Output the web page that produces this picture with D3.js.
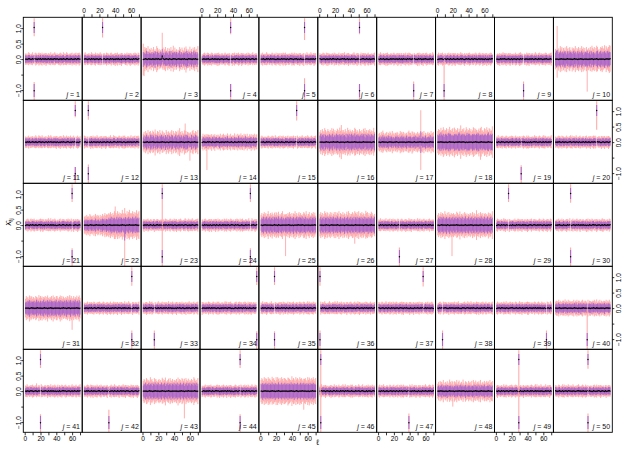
<!DOCTYPE html>
<html><head><meta charset="utf-8">
<script src="https://cdn.jsdelivr.net/npm/d3@7"></script>
<style>body{margin:0;background:#fff}svg{display:block}text{font-family:"Liberation Sans",Arial,Helvetica,sans-serif}</style>
</head><body><svg id="c" width="630" height="450"></svg>
<script>
// ---------- data ----------
const ell = d3.range(1, 71);                 // ℓ = 1..70
const panelJ = d3.range(1, 51);              // j = 1..50
const xTicks = [0, 10, 20, 30, 40, 50, 60, 70];
const xTickLabels = ["0", "", "20", "", "40", "", "60", ""];
const yTicks = [-1, -0.5, 0, 0.5, 1];
const yTickLabels = ["\u22121.0", "", "0.0", "0.5", "1.0"];

// point estimates, one char per ℓ: value = (digit-5)*0.012
const estCodes = [
"5545665456 5465546556 4565564556 5465546655 6545564565 5466545565 4556546655",
"5655456546 5564556545 6545565456 5546556454 6556455465 5645566545 5465565456",
"4556545655 5465547556 5455665456 5546554565 6545565546 5565454656 5546556545",
"5465546564 4556546554 6545565455 5654456546 5546655456 4565546556 5456654565",
"5556454656 5465565545 4655456556 5546545665 5456564554 6545465565 5546556456",
"6545565456 4556546655 5465545566 5645564554 6556545465 5455665456 5546455665",
"5465556454 6545465565 5556456546 4655546556 5465565454 6556454656 5545565465",
"4556565456 5465546545 6545565456 5654456556 5456546655 4565556454 6545465566",
"5545465565 6545565456 4565546554 6556454655 5465565456 5546556545 4656545565",
"5555455655 5545565555 5455655545 5565545555 5455556545 5565455555 5545565556",
"5465564556 5546545665 4655456546 5565546554 6545465565 5456654546 5565545456",
"5654565546 4565546554 6545565456 5546454665 5465565545 6545465556 4556546655",
"5545565455 5565545555 4555655545 5545565555 5555455565 5545555655 4555565545",
"4565545656 5546554565 6545465546 5565545654 4655456556 5465564554 6545565456",
"5556454655 6545565465 5465546554 4656545565 5546655456 4565546556 5456545665",
"5555545565 5545555655 5565545555 5455565545 5555655545 5545565555 5555545565",
"5545565555 5455655545 5565545555 5555455565 5545565455 5565555545 5455565555",
"5555655545 5545565555 5455555655 5565545545 5555455565 5545565555 5455655545",
"5465546565 4556545655 6545565546 5465564554 5546455665 6545565456 4565546556",
"5546565456 5465545566 4556546554 6545565465 5465456556 5546565445 6545565456",
"4565546556 5546545665 6545465556 5465564554 4556545665 5465546556 5456554565",
"5555545565 5545565555 5455655545 5565545555 5555455565 5545555655 5555565545",
"5465565456 5546454665 4655546556 5465565545 6545465556 5456654546 4565545665",
"5546556454 6545565465 5465546556 4556545665 5465565454 6545465556 5546565456",
"5545565555 5555455655 5465545555 5555565545 5455555655 5565545555 5545555565",
"5555455565 5545565555 5565545555 5455655545 5545565555 5555545565 5455565555",
"5465564556 4556546554 6545565465 5546454665 5465565456 4655546556 5546565455",
"5545565555 5465545555 5555655545 5545565455 5565545555 5455565545 5555455565",
"4565546556 5465564554 6545465565 5546556454 4656545665 5465565545 6545465556",
"5546565454 6545465565 4556546556 5465564554 5546545665 6545565456 4565546556",
"5555545565 5545565555 5455655545 5565545555 5555455565 5545565455 5555565545",
"5465546556 4556545665 5465565454 6545465556 5546565456 4655546554 5465565465",
"5546454665 6545565456 4565546556 5465564554 5546556545 6545465565 4556546655",
"4655546556 5465565545 6545465556 5546565454 4565546556 5465564554 6545565465",
"5465565456 5546454665 4655456556 5465546554 6545565465 5546565456 4565545665",
"5546556454 4565546556 5465564554 6545465565 5546545665 4556546556 5465565456",
"6545565456 5465546556 4556545665 5465565454 6545465556 5546565456 4655546554",
"5465564556 6545465565 5546556454 4656545665 5465565545 6545465556 5546565455",
"4556546655 5465545566 6545565456 5546454665 4565546556 5465564554 6545565465",
"5545565455 5565545555 5455655545 5545565555 5555455565 5465545555 5545565555",
"5465546565 4556545655 6545565546 5465564554 5546455665 6545565456 4565546556",
"5546565456 5465545566 4556546554 6545565465 5465456556 5546565445 6545565456",
"5555545565 5545565555 5455655545 5565545555 5555455565 5545555655 5555565545",
"4565546556 5546545665 6545465556 5465564554 4556545665 5465546556 5456554565",
"5545565555 5455655545 5565545555 5555455565 5545565455 5565555545 5455565555",
"5465565456 5546454665 4655546556 5465565545 6545465556 5456654546 4565545665",
"5546556454 6545565465 5465546556 4556545665 5465565454 6545465556 5546565456",
"5555655545 5545565555 5455555655 5565545545 5555455565 5545565555 5455655545",
"5465546556 4556545665 5465565454 6545465556 5546565456 4655546554 5465565465",
"6545565456 4556546655 5465545566 5645564554 6556545465 5455665456 5546455665"
];

// outer (pink) interval half-widths, base-36 char * 0.03
const outerCodes = [
"6656765667 5667656766 6756667656 6675666765 6566766576 6676566667 5666756676",
"6765666567 6656756666 7665666576 6656765667 6675666765 5666756676 6566766576",
"hfdbc9e8ba c8ad9b7ec9 b9a8fc9bd8 ac9b8d9ae8 c9b8a9db8c a9c8eb9a8d 9b8cad9b8e",
"5667656766 6676566667 6765666567 6566766576 6756667656 7665666576 6656756666",
"6675666765 6656765667 5666756676 6765666567 6676566667 6566766576 5667656766",
"6566766576 7665666576 6656756666 6756667656 5667656766 6675666765 6765666567",
"6676566667 6765666567 6566766576 5666756676 6656765667 6756667656 7665666576",
"6756667656 6566766576 6676566667 6656756666 7665666576 5667656766 6675666765",
"5666756676 6675666765 6656765667 7665666576 6765666567 6656756666 6676566667",
"b9dac8ebd9 cad9eb8cda 9dbcae9cbd ac9ebdac8d ebcad9ecbd 9cedab8dce cbdaecbdfe",
"6656756666 5667656766 6765666567 6676566667 6566766576 6675666765 6756667656",
"7665666576 6756667656 6675666765 5667656766 6656765667 6765666567 5666756676",
"9b8ca9d8bc a8cb9ea8cb 9da8cb9a8d b8ca9bd8ca 9cb8dafb8c a9dbc8ba9e b8cda9cb8d",
"7968796887 8796879678 6879678986 8796879678 7968697879 7869786967 8796879688",
"6765666567 6566766576 5666756676 6656756666 6756667656 6676566667 6656765667",
"bdaecbfdac ecbdafcebd acedbgcadb dbecafdbec bdacfebdca ecbdaecfbd adcebdacfb",
"9a8b9ca89a b8a9ba8c9a 8a9ba89cab 9b8a9a8bca a8cb9a8a9b 9a8bab9c8a 8ab9a8c9ab",
"cedbfcdgec dfbecgdcef bgecdfbeci cedfbdgecd fcebdgfced bdfcegcdbf ecgdbfecdh",
"6675666765 6676566667 6656756666 6566766576 7665666576 6656765667 6765666567",
"6566766576 6656765667 6756667656 6765666567 5666756676 7665666576 6675666765",
"5667656766 6765666567 6676566667 6675666765 6656756666 6566766576 6756667656",
"9a8b9a8ca9 a8b9ca9ba8 b9ac9bdacb cdbecadbfc dbfcebdcgd cedbfcegdc dfcebdgcef",
"6756667656 6656756666 6566766576 6656765667 6675666765 5667656766 6676566667",
"6656765667 6675666765 7665666576 6756667656 6566766576 6765666567 5667656766",
"bdacebdacf cadbecadbe dbeacbdfac becadbecad adcfbdaceb dbacedbfca cebadcebda",
"cebdacfdbe dacebdaceb ebdcfadcbe bdacebfdac cedbadcebf adcebdacfd ebdacedbac",
"6676566667 5666756676 6656765667 6566766576 6765666567 6675666765 6656756666",
"bdacebdcaf cbdaecbdac dbcaedbcfa cbdaecbdac bdcaebdcag cbdaecbdac dbcaebdcaf",
"6765666567 6756667656 5667656766 6676566667 6656756666 6656765667 6566766576",
"5666756676 6566766576 6675666765 6765666567 6756667656 6676566667 7665666576",
"adbcaebdca cbadcbaebd bdacbdaceb acbdaebcad dbacebdacb acbdacebda bdacbdaceb",
"6656756666 6676566667 6656765667 5667656766 6675666765 6756667656 6765666567",
"6566766576 6765666567 6656756666 6675666765 6676566667 5666756676 6656765667",
"7665666576 6656765667 6765666567 6756667656 5667656766 6566766576 6676566667",
"6675666765 5667656766 6566766576 6656756666 6765666567 6656765667 6756667656",
"6756667656 6676566667 6675666765 6656765667 6566766576 7665666576 6656756666",
"6656765667 6566766576 6676566667 6765666567 6656756666 6756667656 6675666765",
"5667656766 6656756666 6756667656 6566766576 6676566667 6675666765 6765666567",
"6765666567 6675666765 6656765667 6676566667 7665666576 5667656766 6566766576",
"7887968778 8796879787 7879687978 8778968787 7968877879 8796879687 7887968797",
"6676566667 6656756666 7665666576 6675666765 6756667656 6765666567 6656765667",
"6566766576 6756667656 6765666567 5666756676 6656765667 6676566667 6675666765",
"bdcaedbcaf cdbaecdbac dbcaedbcfa bcdaecbdac cbdafbdcae dbcaecbdac bdcafdbcae",
"6656756666 6765666567 6675666765 6756667656 6676566667 6566766576 5667656766",
"cedbfcedbf decbfdecbf cfdbecfdbe edcbfedcbg cedbfcedbf decbgdecbf cfdbecfdbe",
"6675666765 6566766576 6656765667 6676566667 6765666567 6656756666 6756667656",
"6756667656 6656765667 5666756676 6765666567 6675666765 6676566667 6566766576",
"8a7b9a8c79 a8b79ca8b9 7ba9c8ab79 a8c97ba98b 9a8b7ca9b8 a9b8c79a8b 8ab9a7c9ab",
"6765666567 6676566667 6566766576 6656756666 6656765667 6756667656 6675666765",
"6656765667 6756667656 6676566667 6566766576 6765666567 6675666765 6656756666"
];

// inner (purple) interval half-widths, base-36 char * 0.03
const innerCodes = [
"4434443443 4443434434 3444344443 4434443344 4443434443 3444434434 4434443444",
"4443443434 4434443444 3444434443 4443434434 4434344444 3444344443 4434443344",
"8675968576 6857697586 7586967578 6758695768 7685769586 5768697586 6857967586",
"3444344443 4434344444 4443434443 4434443443 3444434434 4443443434 4434443444",
"4434443344 3444434443 4443434434 4434443444 4443434443 4434344444 3444344443",
"4443434443 4443443434 4434443443 3444434434 4434443344 4443434434 3444434443",
"3444434434 4434443444 4434344444 4443434443 3444344443 4434443443 4443443434",
"4434443444 3444344443 4443443434 4434443344 4443434434 3444434443 4434344444",
"3444434443 4443434443 4434443444 4443443434 4434443443 4434344444 3444434434",
"7958679768 6897586978 7689685796 8679758687 9768597686 7589678968 6897689787",
"4443443434 3444434434 4434443344 4434344444 4443434434 4434443444 3444344443",
"4434344444 4434443443 3444434443 4443434443 3444344443 4443443434 4434443344",
"5746857648 6857468576 4768576486 5847658746 6857486576 4768587465 5847658746",
"4554464545 5445464554 4564545445 5464454545 4545546454 5445464545 4564454554",
"4434443443 4434344444 4443443434 3444344443 4434443444 3444434434 4443434443",
"7968795867 8697869578 6978697869 7869587968 9786968797 6879786958 7968697869",
"5646575646 6574656465 4657564657 5646574656 6465657465 5746465657 4656574656",
"8797a87968 9879a89787 7989879a97 8979878a89 9787989879 8a97879878 9879a87989",
"4443434434 4434443344 4434443444 3444434443 4443443434 4434344444 4434443443",
"3444344443 4443434443 3444434434 4434443443 4434443344 4443434434 4434443444",
"4434443344 4443443434 4443434434 3444434443 4434344444 4434443444 3444344443",
"5646564656 6465746564 5757657576 6867968786 7968797867 8796879687 7978697878",
"4443434443 3444344443 4434443443 4434344444 4443434434 3444434434 4434443344",
"3444434434 4434443443 4434443344 4443434443 4443443434 3444434443 4434443444",
"6879687968 7968796879 8796879687 6879687968 7968796879 8796879687 6879687968",
"7968796879 6879687968 8796879687 7968796879 6879687968 8796879687 7968796879",
"4434443444 4443434434 3444344443 4443443434 4434443443 4434443344 4434344444",
"6879687968 7968796879 6879687968 7968796879 6879687968 7968796879 6879687968",
"3444434443 4434344444 4443434443 4434443444 3444434434 4443434434 4434443443",
"4443443434 4434443344 3444434443 4434443443 4443434443 3444344443 4434344444",
"6768796867 7867968768 6879678697 7968786879 6787968768 8697687968 6879678697",
"4434344444 3444434434 4443443434 4443434434 4434443444 4434443443 3444344443",
"4434443443 4443434443 4434443344 3444434443 4434344444 4443443434 3444434434",
"4443434434 4434443444 3444434434 4434344444 3444344443 4434443343 4443434443",
"3444344443 4434443443 4443434434 4443443434 4434443344 4434344444 3444434443",
"4434443344 4434344444 4434443443 3444434434 4443434443 3444434443 4443443434",
"4443434443 4443443434 3444344443 4434443444 3444434443 4434443344 4434443443",
"3444434434 3444434443 4443434434 4434443443 4434344444 4443443434 4434443344",
"4434443444 4434443443 4434344444 3444344443 4443434443 4443434434 3444434434",
"4545644545 5446454554 4554546445 5464454545 4545546454 5445464545 4564454554",
"3444434443 4443443434 4434443344 4443434434 4434443444 3444434434 4434344444",
"4443443434 4443434443 4434443443 4434344444 3444344443 4434443344 3444434443",
"6879687968 7968796879 6879687968 7968796879 6879687968 7968796879 6879687968",
"4434344444 4434443344 3444434434 4443443434 4443434434 4434443443 3444344443",
"8797879787 9787978797 8797879787 9787978797 8797879787 9787978797 8797879787",
"4434443443 3444434443 4443443434 4434443344 4434344444 4443434443 4443434434",
"4443434434 4434344444 4434443444 3444434434 4434443443 3444344443 4443443434",
"5646574656 6574656465 4657564657 5646574656 6465657465 5746465657 4656574656",
"3444344443 4443434434 4434443443 4443434443 3444434434 4434443444 4434443344",
"4434443344 3444344443 4443443434 4434344444 4434443443 4443434434 4434443444"
];

// sign-ambiguous loadings at ±1 : panel j, position ℓ, sides shown, how far the pink reaches toward 0
const spikeJ     = [1, 2, 4, 5, 6, 7, 8, 9, 11, 12, 15, 19, 20, 21, 23, 24, 27, 29, 30, 32, 33, 34, 35, 36, 37, 38, 39, 40, 41, 42, 44, 46, 47, 49, 50];
const spikeL     = [12, 24, 37, 56, 51, 45, 9, 35, 64, 6, 46, 32, 53, 60, 25, 62, 27, 16, 20, 61, 15, 70, 18, 1, 57, 7, 64, 41, 20, 32, 49, 2, 39, 29, 42];
const spikeSide  = ["tb","t","tb","tb","tb","b","b","b","tb","tb","t","b","t","tb","tb","tb","b","t","tb","tb","b","tb","tb","tb","t","b","b","b","tb","b","tb","tb","b","tb","tb"];
const spikeReach = [0.74,0.7,0.8,0.62,0.8,0.72,0.05,0.72,0.8,0.72,0.7,0.75,0.4,0.75,0,0.75,0.72,0.75,0.72,0.72,0.72,0.75,0.75,0.72,0.7,0.72,0.72,0.05,0.75,0.6,0.75,0,0.72,0,0.72];

// individual wide outer intervals
const outJ  = [3, 3, 10, 10, 10, 13, 13, 14, 16, 17, 18, 22, 22, 25, 26, 28, 31, 41, 43, 45, 48];
const outL  = [25, 2, 3, 41, 63, 54, 60, 7, 28, 54, 55, 52, 40, 32, 45, 19, 60, 15, 53, 55, 20];
const outLo = [-0.3, -0.55, -0.6, -1.05, -0.3, -0.35, -0.6, -0.9, -0.55, -0.9, -0.57, -1.32, -0.45, -1.0, -0.6, -1.0, -0.7, -0.2, -0.88, -0.6, -0.5];
const outHi = [0.85, 0.3, 1.07, 0.3, 0.45, 0.6, 0.3, 0.2, 0.55, 1.03, 0.45, 0.55, 0.6, 0.35, 0.45, 0.35, 0.3, 0.25, 0.4, 0.4, 0.3];
// individual inner intervals
const inJ  = [3, 17, 10, 22];
const inL  = [25, 54, 3, 52];
const inLo = [-0.1, -0.35, -0.2, -0.5];
const inHi = [0.32, 0.35, 0.3, 0.2];

// ---------- drawing ----------
const svg = d3.select("#c");
const gridL = 23.3, gridT = 17.3, pw = 58.9, ph = 83;
const nCol = 10;
const decE = ch => ((+ch) - 5) * 0.012;
const decW = ch => parseInt(ch, 36) * 0.03;
const clean = s => s.replace(/ /g, "");
const pink = "#ff9c9c", purple = "#9a58cf";
const defs = svg.append("defs");

panelJ.forEach((j, k) => {
  const r = Math.floor(k / nCol), c = k % nCol;
  const x0 = gridL + c * pw, y0 = gridT + r * ph;
  const x = d3.scaleLinear().domain([-1.76, 72.76]).range([x0, x0 + pw]);
  const y = d3.scaleLinear().domain([-1.33, 1.35]).range([y0 + ph, y0]);
  const es = clean(estCodes[k]), os = clean(outerCodes[k]), is = clean(innerCodes[k]);
  const si = spikeJ.indexOf(j);
  const pts = ell.map((l, i) => {
    const e = decE(es[i] || "5"), o = decW(os[i] || "6"), n = decW(is[i] || "4");
    const d = {l, e, olo: e - o, ohi: e + o, ilo: e - n, ihi: e + n,
               spike: si >= 0 && spikeL[si] === l};
    outJ.forEach((jj, q) => { if (jj === j && outL[q] === l) { d.olo = outLo[q]; d.ohi = outHi[q]; } });
    inJ.forEach((jj, q) => { if (jj === j && inL[q] === l) { d.ilo = inLo[q]; d.ihi = inHi[q]; } });
    if (j === 3 && l === 25) d.e = 0.1;
    return d;
  });

  defs.append("clipPath").attr("id", "cp" + j).append("rect")
    .attr("x", x0).attr("y", y0).attr("width", pw).attr("height", ph);
  const g = svg.append("g").attr("clip-path", `url(#cp${j})`);
  const normal = pts.filter(d => !d.spike);

  g.selectAll(".o").data(normal).join("line")
    .attr("x1", d => x(d.l)).attr("x2", d => x(d.l))
    .attr("y1", d => y(d.olo)).attr("y2", d => y(d.ohi))
    .attr("stroke", pink).attr("stroke-width", 1).attr("stroke-opacity", 0.8);
  g.selectAll(".i").data(normal).join("line")
    .attr("x1", d => x(d.l)).attr("x2", d => x(d.l))
    .attr("y1", d => y(d.ilo)).attr("y2", d => y(d.ihi))
    .attr("stroke", purple).attr("stroke-width", 1).attr("stroke-opacity", 0.75);

  // spike pieces
  if (si >= 0) {
    const sx = x(spikeL[si]), side = spikeSide[si], reach = spikeReach[si];
    const pieces = [];
    if (side.includes("t")) pieces.push({olo: reach, ohi: 1.32, ilo: 0.84, ihi: 1.2, e: 1.02});
    if (side.includes("b")) pieces.push({olo: -1.32, ohi: -reach, ilo: -1.22, ihi: -0.8, e: -1.02});
    pieces.forEach(p => {
      g.append("line").attr("x1", sx).attr("x2", sx).attr("y1", y(p.olo)).attr("y2", y(p.ohi))
        .attr("stroke", pink).attr("stroke-width", 1.1).attr("stroke-opacity", 0.85);
      g.append("line").attr("x1", sx).attr("x2", sx).attr("y1", y(p.ilo)).attr("y2", y(p.ihi))
        .attr("stroke", purple).attr("stroke-width", 1.1).attr("stroke-opacity", 0.8);
      g.append("circle").attr("cx", sx).attr("cy", y(p.e)).attr("r", 0.7).attr("fill", "#000");
    });
  }

  // estimates
  g.append("path").datum(pts)
    .attr("d", d3.line().defined(d => !d.spike).x(d => x(d.l)).y(d => y(d.e)))
    .attr("fill", "none").attr("stroke", "#111").attr("stroke-width", 0.55);
  g.selectAll(".p").data(normal).join("circle")
    .attr("cx", d => x(d.l)).attr("cy", d => y(d.e)).attr("r", 0.65).attr("fill", "#000");

  // frame
  svg.append("rect").attr("x", x0).attr("y", y0).attr("width", pw).attr("height", ph)
    .attr("fill", "none").attr("stroke", "#000").attr("stroke-width", 0.9);

  // panel label
  const t = svg.append("text").attr("x", x0 + pw - 2.2).attr("y", y0 + ph - 3.8)
    .attr("text-anchor", "end").attr("font-size", 7).attr("fill", "#111");
  t.append("tspan").attr("font-style", "italic").text("j");
  t.append("tspan").text(" = " + j);

  // x axes (alternating)
  const styleAxis = a => { a.select(".domain").remove(); a.selectAll("line").attr("stroke", "#000").attr("stroke-width", 0.8);
    a.selectAll("text").attr("font-size", 6.5).attr("fill", "#000").attr("font-family", '"Liberation Sans",Arial,sans-serif'); };
  if (r === 0 && c % 2 === 1 && c < 9) {
    const a = svg.append("g").attr("transform", `translate(0,${y0})`)
      .call(d3.axisTop(x).tickValues(xTicks).tickFormat((d, i) => xTickLabels[i]).tickSize(3).tickPadding(1.8));
    styleAxis(a);
  }
  if (r === 4 && c % 2 === 0) {
    const a = svg.append("g").attr("transform", `translate(0,${y0 + ph})`)
      .call(d3.axisBottom(x).tickValues(xTicks).tickFormat((d, i) => xTickLabels[i]).tickSize(3).tickPadding(0.6));
    styleAxis(a);
  }
  // y axes (alternating)
  if (c === 0 && r % 2 === 0) {
    const a = svg.append("g").attr("transform", `translate(${x0},0)`)
      .call(d3.axisLeft(y).tickValues(yTicks).tickFormat((d, i) => yTickLabels[i]).tickSize(2));
    styleAxis(a);
    a.selectAll("text").attr("transform", "rotate(-90)").attr("x", 0).attr("y", -2.4)
      .attr("dy", 0).attr("text-anchor", "middle");
  }
  if (c === nCol - 1 && r % 2 === 1) {
    const a = svg.append("g").attr("transform", `translate(${x0 + pw},0)`)
      .call(d3.axisRight(y).tickValues(yTicks).tickFormat((d, i) => yTickLabels[i]).tickSize(2));
    styleAxis(a);
    a.selectAll("text").attr("transform", "rotate(-90)").attr("x", 0).attr("y", 8.6)
      .attr("dy", 0).attr("text-anchor", "middle");
  }
});

// axis titles
const yl = svg.append("text").attr("transform", "translate(11,222) rotate(-90)")
  .attr("text-anchor", "middle").attr("font-size", 8).attr("fill", "#000");
yl.append("tspan").text("\u03BB\u0302");
yl.append("tspan").attr("font-size", 6).attr("dy", 2).text("\u2113j");
svg.append("text").attr("x", gridL + 5 * pw).attr("y", 444.5).attr("text-anchor", "middle")
  .attr("font-size", 8).attr("fill", "#000").text("\u2113");
</script>
</body></html>
